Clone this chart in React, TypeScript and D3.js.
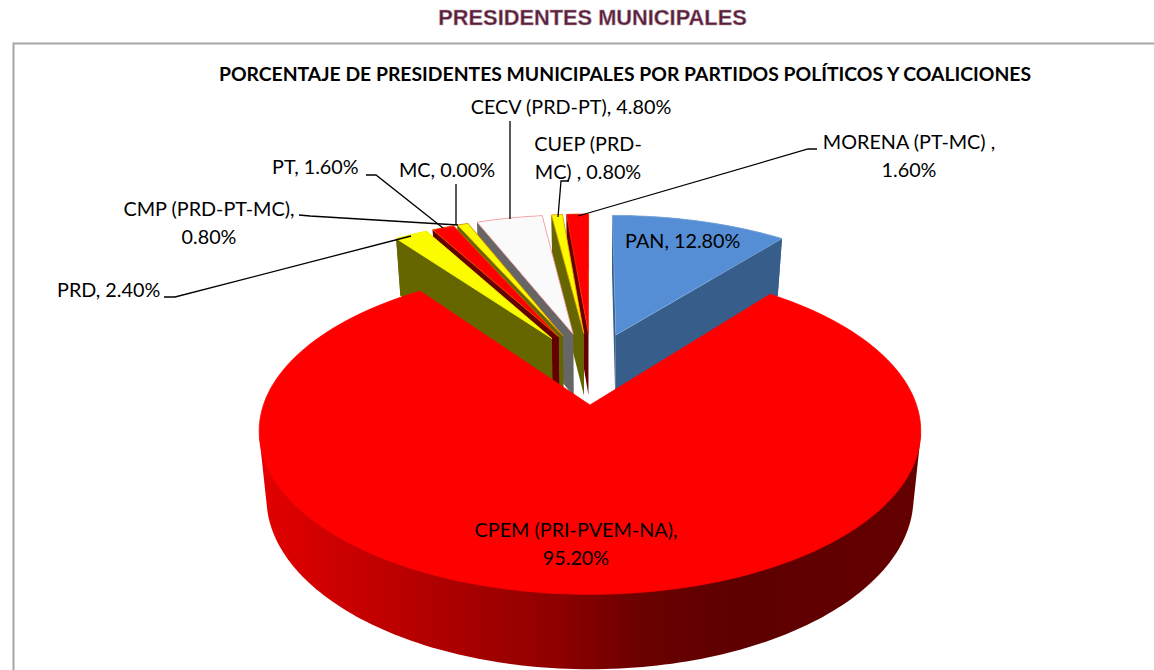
import * as d3 from "d3";

// values as printed on the chart (they add up to 120, Excel still splits the circle by them)
const parties = ["PAN", "CPEM", "PRD", "PT", "CMP", "MC", "CECV", "CUEP", "MORENA"];
const percents = [12.8, 95.2, 2.4, 1.6, 0.8, 0.0, 4.8, 0.8, 1.6];
const labelLines = [
  ["PAN, 12.80%"],
  ["CPEM (PRI-PVEM-NA),", "95.20%"],
  ["PRD, 2.40%"],
  ["PT, 1.60%"],
  ["CMP (PRD-PT-MC),", "0.80%"],
  ["MC, 0.00%"],
  ["CECV (PRD-PT), 4.80%"],
  ["CUEP (PRD-", "MC) , 0.80%"],
  ["MORENA (PT-MC) ,", "1.60%"],
];

const topColors = ["#558ed5", "#ff0000", "#fcfc00", "#ff0000", "#fcfc00", "#fcfc00", "#fafafa", "#fcfc00", "#ff0000"];
const faceColors = ["#375d8a", "#660000", "#666600", "#660000", "#666600", "#666600", "#666666", "#666600", "#660000"];
const edgeColors = ["#7fa8dc", "#ff0000", "#fcfc00", "#e86a00", "#e08a00", "#fcfc00", "#ff9c9c", "#f0a000", "#ff3000"];

// label placement: [x, first baseline y, anchor]
const labelPos: [number, number, string][] = [
  [625, 248, "start"],
  [576, 537, "middle"],
  [57, 297, "start"],
  [272, 174, "start"],
  [209, 216, "middle"],
  [399, 177, "start"],
  [571, 114, "middle"],
  [588, 151, "middle"],
  [909, 149, "middle"],
];
// leader lines drawn for the small slices only
const leaders: Record<string, [number, number][]> = {
  PRD: [[164, 297], [175, 297], [411, 236]],
  PT: [[366, 175], [376, 175], [443, 228]],
  CMP: [[299, 215], [310, 216], [458, 225]],
  MC: [[456, 184], [456, 225]],
  CECV: [[510, 121], [510, 219]],
  CUEP: [[569, 181], [561, 181], [558, 217]],
  MORENA: [[817, 149], [808, 149], [578, 216]],
};

const W = 1154;
const H = 670;
const persp = 0.16; // foreshortening of the pie plane
const explode = 0.2435;
const pieCenter = { x: 0.005, y: -explode };

// world plane units -> screen, top and bottom face of the disc
const sx = d3.scaleLinear().domain([0, 1]).range([590, 590 + 326.5]);
const sy = d3.scaleLinear().domain([0, 1]).range([405, 405 + 159]);
const sxBase = d3.scaleLinear().domain([0, 1]).range([590, 590 + 326.5 * 0.978]);
const syBase = d3.scaleLinear().domain([0, 1]).range([405 + 65.5, 405 + 65.5 + 159 * 1.05]);

const project = (x: number, y: number, base = false): [number, number] => {
  const w = 1 - persp * y;
  return base ? [sxBase(x / w), syBase(y / w)] : [sx(x / w), sy(y / w)];
};

const line = d3.line();

const arcs = d3.pie<number>().sort(null).value((d) => d)(percents);

function sliceShapes(a: d3.PieArcDatum<number>) {
  const mid = (a.startAngle + a.endAngle) / 2;
  const ox = pieCenter.x + explode * Math.sin(mid);
  const oy = pieCenter.y - explode * Math.cos(mid);
  const n = Math.max(2, Math.ceil((a.endAngle - a.startAngle) / 0.02));
  const angles = d3.range(n + 1).map((i) => a.startAngle + ((a.endAngle - a.startAngle) * i) / n);
  const rim = (base: boolean) =>
    angles.map((t) => project(ox + Math.sin(t), oy - Math.cos(t), base));
  const rimTop = rim(false);
  const rimBase = rim(true);
  const apexTop = project(ox, oy);
  const apexBase = project(ox, oy, true);
  // front part of the rim, hull of it gives the straight silhouette at the sides
  const front = angles.filter((t) => t > (100 * Math.PI) / 180 && t < (260 * Math.PI) / 180);
  const frontPts: [number, number][] = front.flatMap((t) => [
    project(ox + Math.sin(t), oy - Math.cos(t), false),
    project(ox + Math.sin(t), oy - Math.cos(t), true),
  ]);
  const hull = frontPts.length > 2 ? d3.polygonHull(frontPts) : null;
  return {
    top: line([apexTop, ...rimTop]) + "Z",
    wall: hull ? line(hull) + "Z" : line([...rimTop, ...[...rimBase].reverse()]) + "Z",
    startFace: line([apexTop, rimTop[0], rimBase[0], apexBase]) + "Z",
    endFace: line([apexTop, rimTop[n], rimBase[n], apexBase]) + "Z",
  };
}

// paint order: right to left across the small slices, then PAN, big slice on top
const paintOrder = [8, 7, 6, 4, 3, 2, 0, 1];

const labelFont = "Lato, Carlito, Calibri, sans-serif";

export default function App() {
  return (
    <svg
      width={W}
      height={H}
      viewBox={`0 0 ${W} ${H}`}
      style={{ position: "absolute", left: 0, top: 0, background: "#fff" }}
    >
      <defs>
        <linearGradient id="cpemWall" gradientUnits="userSpaceOnUse" x1={259} x2={921} y1={0} y2={0}>
          <stop offset="0" stopColor="#e40000" />
          <stop offset="0.12" stopColor="#cc0000" />
          <stop offset="0.45" stopColor="#8e0000" />
          <stop offset="0.58" stopColor="#6a0000" />
          <stop offset="0.72" stopColor="#5e0000" />
          <stop offset="1" stopColor="#640000" />
        </linearGradient>
      </defs>

      {/* chart frame runs off the right and bottom of the crop */}
      <path d={`M${W},43.5H13.5V${H}`} fill="none" stroke="#a6a6a6" strokeWidth={2} />

      <text
        x={592.5}
        y={25}
        textAnchor="middle"
        fontFamily="'Liberation Sans', Arial, sans-serif"
        fontWeight={700}
        fontSize={21.8}
        fill="#5a1f3a"
        stroke="#b79aa8"
        strokeWidth={0.5}
      >
        PRESIDENTES MUNICIPALES
      </text>
      <text
        x={625}
        y={81}
        textAnchor="middle"
        fontFamily={labelFont}
        fontWeight={700}
        fontSize={19.35}
        fill="#000"
      >
        PORCENTAJE DE PRESIDENTES MUNICIPALES POR PARTIDOS POLÍTICOS Y COALICIONES
      </text>

      {paintOrder.map((i) => {
        const s = sliceShapes(arcs[i]);
        const isBig = parties[i] === "CPEM";
        return (
          <g key={parties[i]} strokeLinejoin="round">
            <path d={s.wall} fill={isBig ? "url(#cpemWall)" : faceColors[i]} />
            {!isBig && <path d={s.startFace} fill={faceColors[i]} />}
            {!isBig && <path d={s.endFace} fill={faceColors[i]} />}
            <path d={s.top} fill={topColors[i]} stroke={edgeColors[i]} strokeWidth={0.8} />
          </g>
        );
      })}

      {parties.map((p) =>
        leaders[p] ? (
          <path key={p} d={line(leaders[p]) as string} fill="none" stroke="#000" strokeWidth={1.3} />
        ) : null
      )}

      {labelLines.map((lines, i) => (
        <text
          key={parties[i]}
          x={labelPos[i][0]}
          y={labelPos[i][1]}
          textAnchor={labelPos[i][2] as "start" | "middle"}
          fontFamily={labelFont}
          fontSize={19.8}
          fill="#000"
        >
          {lines.map((t, j) => (
            <tspan key={j} x={labelPos[i][0]} dy={j === 0 ? 0 : 28}>
              {t}
            </tspan>
          ))}
        </text>
      ))}
    </svg>
  );
}
